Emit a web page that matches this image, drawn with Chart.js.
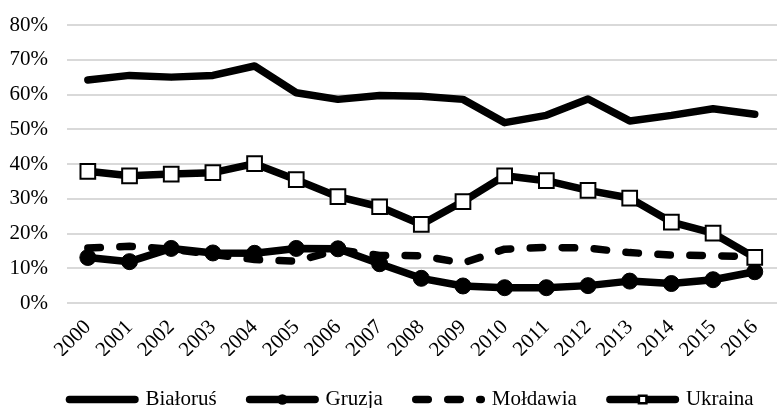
<!DOCTYPE html>
<html>
<head>
<meta charset="utf-8">
<script src="https://cdn.jsdelivr.net/npm/chart.js@4.4.0/dist/chart.umd.min.js"></script>
<style>
html,body{margin:0;padding:0;overflow:hidden;background:#fff;width:777px;height:408px}
#wrap{position:absolute;left:0;top:0;width:823px;height:420px}
</style>
</head>
<body>
<div id="wrap"><canvas id="c"></canvas></div>
<script>
const years = ['2000','2001','2002','2003','2004','2005','2006','2007','2008','2009','2010','2011','2012','2013','2014','2015','2016'];
const bialorus = [64.2, 65.5, 65.0, 65.5, 68.2, 60.5, 58.6, 59.7, 59.5, 58.6, 51.9, 54.0, 58.7, 52.4, 54.0, 55.9, 54.3];
const gruzja   = [13.1, 11.9, 15.7, 14.4, 14.3, 15.7, 15.6, 11.3, 7.1, 4.9, 4.4, 4.4, 5.0, 6.3, 5.6, 6.7, 9.0];
const moldawia = [15.8, 16.3, 15.5, 14.0, 12.5, 12.0, 15.3, 13.7, 13.6, 11.5, 15.5, 16.0, 15.8, 14.5, 13.8, 13.6, 13.3];
const ukraina  = [37.9, 36.6, 37.1, 37.5, 40.1, 35.5, 30.6, 27.7, 22.6, 29.2, 36.6, 35.2, 32.4, 30.2, 23.3, 20.1, 13.1];
const yTicks = [0, 10, 20, 30, 40, 50, 60, 70, 80];

const pts = arr => arr.map((v, i) => ({x: i, y: v}));

Chart.defaults.font.family = "'Liberation Serif', 'Times New Roman', serif";
Chart.defaults.color = '#000';

const legendMarkers = {
  id: 'legendMarkers',
  afterDraw(chart) {
    const lg = chart.legend;
    if (!lg || !lg.legendHitBoxes) return;
    const ctx = chart.ctx;
    const bw = lg.options.labels.pointStyleWidth;
    lg.legendItems.forEach((item, i) => {
      const ds = chart.data.datasets[item.datasetIndex];
      if (!ds.legendMarker) return;
      const hb = lg.legendHitBoxes[i];
      const cx = hb.left + bw / 2, cy = hb.top + hb.height / 2;
      ctx.save();
      ctx.setLineDash([]);
      ctx.fillStyle = ds.pointBackgroundColor;
      ctx.strokeStyle = ds.pointBorderColor;
      ctx.lineWidth = ds.legendMarker.border;
      ctx.beginPath();
      const r = ds.legendMarker.size / 2;
      if (ds.legendMarker.shape === 'circle') {
        ctx.arc(cx, cy, r, 0, Math.PI * 2);
        ctx.fill();
      } else {
        const b = ds.legendMarker.border;
        ctx.rect(cx - r + b / 2, cy - r + b / 2, 2 * r - b, 2 * r - b);
        ctx.fill();
        ctx.stroke();
      }
      ctx.restore();
    });
  }
};

const LW = 7.5;
new Chart(document.getElementById('c'), {
  type: 'line',
  data: {
    datasets: [
      {label: 'Białoruś', data: pts(bialorus), borderColor: '#000', backgroundColor: '#000',
       borderWidth: LW, borderCapStyle: 'round', borderJoinStyle: 'round', pointRadius: 0, order: 4},
      {label: 'Gruzja', data: pts(gruzja), borderColor: '#000', backgroundColor: '#000',
       borderWidth: LW, borderCapStyle: 'round', borderJoinStyle: 'round',
       pointStyle: 'circle', pointRadius: 8, pointBorderWidth: 1,
       pointBackgroundColor: '#000', pointBorderColor: '#000', order: 3,
       legendMarker: {shape: 'circle', size: 10.5, border: 0}},
      {label: 'Mołdawia', data: pts(moldawia), borderColor: '#000', backgroundColor: '#000',
       borderWidth: LW, borderCapStyle: 'round', borderJoinStyle: 'round', borderDash: [12.5, 19.5],
       pointRadius: 0, order: 2},
      {label: 'Ukraina', data: pts(ukraina), borderColor: '#000', backgroundColor: '#000',
       borderWidth: LW, borderCapStyle: 'round', borderJoinStyle: 'round',
       pointStyle: 'rect', pointRadius: 10.4, pointBorderWidth: 2,
       pointBackgroundColor: '#fff', pointBorderColor: '#000', order: 1,
       legendMarker: {shape: 'rect', size: 10, border: 2.5}}
    ]
  },
  options: {
    responsive: true,
    maintainAspectRatio: false,
    animation: false,
    layout: {padding: {top: 25, left: 0, right: 0, bottom: 0}},
    plugins: {
      tooltip: {enabled: false},
      legend: {
        position: 'bottom',
        labels: {
          usePointStyle: true,
          pointStyle: 'line',
          pointStyleWidth: 65.5,
          padding: 33,
          color: '#000',
          font: {size: 21},
          generateLabels: chart => chart.data.datasets.map((ds, i) => ({
            text: ds.label,
            datasetIndex: i,
            fillStyle: '#000',
            strokeStyle: '#000',
            fontColor: '#000',
            lineWidth: ds.borderWidth,
            lineCap: 'round',
            lineJoin: 'round',
            lineDash: ds.borderDash || [],
            lineDashOffset: 0,
            pointStyle: 'line',
            rotation: 0,
            hidden: false
          }))
        }
      }
    },
    scales: {
      x: {
        type: 'linear',
        min: -0.5,
        max: 17.34,
        afterBuildTicks: s => { s.ticks = years.map((_, i) => ({value: i})); },
        afterFit: s => { s.height = 53; },
        ticks: {
          autoSkip: false,
          minRotation: 45,
          maxRotation: 45,
          padding: 4,
          color: '#000',
          font: {size: 21},
          callback: v => years[v]
        },
        grid: {display: false},
        border: {display: false}
      },
      y: {
        min: 0,
        max: 80,
        afterBuildTicks: s => { s.ticks = yTicks.map(v => ({value: v})); },
        afterFit: s => { s.width = 67; s.paddingTop = 0; s.paddingBottom = 0; },
        ticks: {
          padding: 19,
          color: '#000',
          font: {size: 21},
          callback: v => v + '%'
        },
        grid: {color: '#d9d9d9', lineWidth: 2, drawTicks: false},
        border: {display: false}
      }
    }
  },
  plugins: [legendMarkers]
});
</script>
</body>
</html>
